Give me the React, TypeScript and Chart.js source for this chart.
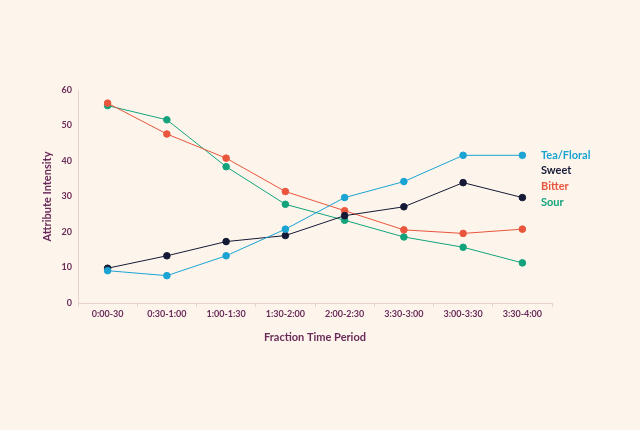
import React, { useEffect, useRef } from "react";
import { Chart, registerables } from "chart.js";

Chart.register(...registerables);

const categories = ["0:00-30", "0:30-1:00", "1:00-1:30", "1:30-2:00", "2:00-2:30", "3:30-3:00", "3:00-3:30", "3:30-4:00"];
const teaFloral = [9.1, 7.7, 13.3, 20.8, 29.7, 34.2, 41.6, 41.6];
const sweet = [9.8, 13.3, 17.3, 19.0, 24.6, 27.1, 33.9, 29.7];
const bitter = [56.3, 47.6, 40.8, 31.4, 26.0, 20.6, 19.6, 20.8];
const sour = [55.6, 51.6, 38.4, 27.8, 23.3, 18.6, 15.7, 11.3];
const seriesNames = ["Tea/Floral", "Sweet", "Bitter", "Sour"];
const yTicks = [0, 10, 20, 30, 40, 50, 60];

const colors = ["#1ba3d3", "#141a36", "#e9553d", "#13a37c"];
const textColor = "#6a2b5a";
const axisColor = "#e6d3cf";
const bg = "#fdf5eb";
const fontFamily = "Lato, 'Open Sans', sans-serif";

const legendPlugin = {
  id: "sideLegend",
  afterDraw(chart: any) {
    const { ctx, chartArea } = chart;
    ctx.save();
    ctx.font = `bold 11px ${fontFamily}`;
    ctx.textAlign = "left";
    ctx.textBaseline = "middle";
    const x = chartArea.right - 11;
    const y0 = chartArea.top + 65;
    seriesNames.forEach((n, i) => {
      ctx.fillStyle = colors[i];
      ctx.fillText(n, x, y0 + i * 15.7);
    });
    ctx.restore();
  },
};

export default function App() {
  const ref = useRef<HTMLCanvasElement>(null);
  useEffect(() => {
    const values = [teaFloral, sweet, bitter, sour];
    const chart = new Chart(ref.current!, {
      type: "line",
      data: {
        labels: categories,
        datasets: seriesNames.map((name, i) => ({
          label: name,
          data: values[i],
          borderColor: colors[i],
          backgroundColor: colors[i],
          pointBackgroundColor: colors[i],
          pointBorderColor: colors[i],
          borderWidth: 1,
          pointRadius: 3.3,
          pointHoverRadius: 3.3,
          tension: 0,
        })),
      },
      options: {
        animation: false,
        responsive: false,
        maintainAspectRatio: false,
        layout: { padding: { top: 90, right: 88, left: 37, bottom: 0 } },
        plugins: { legend: { display: false }, tooltip: { enabled: false } },
        scales: {
          x: {
            offset: true,
            grid: { display: true, drawOnChartArea: false, tickLength: 4, color: axisColor, offset: true },
            border: { color: axisColor, width: 1 },
            ticks: { color: textColor, font: { family: fontFamily, size: 9, weight: "bold" }, padding: 2, maxRotation: 0, autoSkip: false },
            title: { display: true, text: "Fraction Time Period", color: textColor, font: { family: fontFamily, size: 11, weight: "bold" }, padding: { top: 14, bottom: 86 } },
            afterFit(scale: any) { scale.height = 127; },
          },
          y: {
            min: 0,
            max: 60,
            afterBuildTicks(scale: any) { scale.ticks = yTicks.map((v) => ({ value: v })); },
            grid: { display: false, drawTicks: false },
            border: { color: axisColor, width: 1 },
            ticks: { color: textColor, font: { family: fontFamily, size: 9, weight: "bold" }, padding: 6 },
            title: { display: true, text: "Attribute Intensity", color: textColor, font: { family: fontFamily, size: 11, weight: "bold" }, padding: 4 },
            afterFit(scale: any) { scale.width = 41; },
          },
        },
      },
      plugins: [legendPlugin],
    });
    return () => chart.destroy();
  }, []);
  return (
    <div style={{ position: "fixed", left: 0, top: 0, width: 640, height: 430, background: bg }}>
      <canvas ref={ref} width={640} height={430} style={{ width: 640, height: 430 }} />
    </div>
  );
}
